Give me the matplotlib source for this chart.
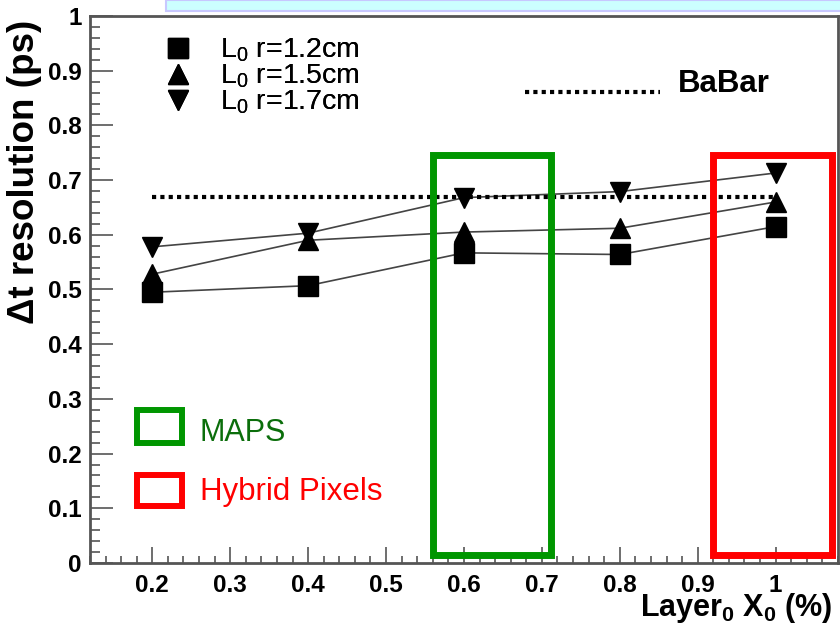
import matplotlib
matplotlib.use('Agg')
import matplotlib.pyplot as plt
from matplotlib.patches import Rectangle
from matplotlib.lines import Line2D
from matplotlib.ticker import MultipleLocator, FuncFormatter

plt.rcParams['font.family'] = ['Liberation Sans', 'DejaVu Sans']
plt.rcParams['mathtext.default'] = 'regular'

# material budget of layer 0 (% X0)
layer_x0 = [0.2, 0.4, 0.6, 0.8, 1.0]
# delta t resolution (ps) for three radii of layer 0
res_r12 = [0.495, 0.507, 0.567, 0.564, 0.615]
res_r15 = [0.528, 0.590, 0.605, 0.612, 0.660]
res_r17 = [0.578, 0.603, 0.668, 0.679, 0.713]
labels = ['L$_0$ r=1.2cm', 'L$_0$ r=1.5cm', 'L$_0$ r=1.7cm']

# BaBar reference
babar_x = [0.2, 1.0]
babar_y = [0.67, 0.67]

# technology ranges (x0, x1, y0, y1)
maps_box = [0.56, 0.712, 0.015, 0.746]
hybrid_box = [0.92, 1.072, 0.015, 0.746]

green = '#009600'
red = '#ff0000'

fig = plt.figure(figsize=(8.4, 6.26), dpi=100)
# light blue strip at top of the slide
fig.patches.append(Rectangle((166/840, 1-11/626), 1, 11/626, transform=fig.transFigure,
                             facecolor='#ccffff', edgecolor='#c8c8ff', lw=1.5))
ax = fig.add_axes([90/840, 1-563/626, 748/840, 547/626])

ax.plot(layer_x0, res_r12, color='#444444', lw=1.2, marker='s', ms=15, mfc='black', mec='black')
ax.plot(layer_x0, res_r15, color='#444444', lw=1.2, marker='^', ms=15, mfc='black', mec='black')
ax.plot(layer_x0, res_r17, color='#444444', lw=1.2, marker='v', ms=15, mfc='black', mec='black')
ax.plot(babar_x, babar_y, color='black', lw=3, ls=(0, (1, 1)), dash_capstyle='butt')

for box, col in [(maps_box, green), (hybrid_box, red)]:
    ax.add_patch(Rectangle((box[0], box[2]), box[1]-box[0], box[3]-box[2],
                           fill=False, edgecolor=col, lw=5, clip_on=False, zorder=5))

# series legend
handles = [Line2D([], [], ls='none', marker=m, ms=15, color='black') for m in ['s', '^', 'v']]
leg = ax.legend(handles, labels, loc='upper left', bbox_to_anchor=(0.099, 0.962),
                frameon=False, fontsize=20.5, handlelength=0.95, handletextpad=1.0,
                labelspacing=-0.05, borderpad=0, borderaxespad=0)
ax.add_artist(leg)

# BaBar legend
ax.plot([0.582, 0.762], [0.861, 0.861], transform=ax.transAxes, color='black', lw=3,
        ls=(0, (1, 1)), dash_capstyle='butt')
ax.text(0.786, 0.861, 'BaBar', transform=ax.transAxes, fontsize=22.5, fontweight='bold',
        va='baseline', ha='left')

# technology legend
ax.add_patch(Rectangle((0.063, 0.219), 0.06, 0.061, transform=ax.transAxes,
                       fill=False, edgecolor=green, lw=4.3))
ax.add_patch(Rectangle((0.063, 0.104), 0.06, 0.057, transform=ax.transAxes,
                       fill=False, edgecolor=red, lw=4.3))
ax.text(0.147, 0.238, 'MAPS', transform=ax.transAxes, fontsize=22, color='#0b6e0b',
        va='center', ha='left')
ax.text(0.147, 0.13, 'Hybrid Pixels', transform=ax.transAxes, fontsize=22.5, color=red,
        va='center', ha='left')

ax.set_xlim(0.12, 1.08)
ax.set_ylim(0, 1)
ax.xaxis.set_major_locator(MultipleLocator(0.1))
ax.xaxis.set_minor_locator(MultipleLocator(0.02))
ax.yaxis.set_major_locator(MultipleLocator(0.1))
ax.yaxis.set_minor_locator(MultipleLocator(0.02))
fmt = FuncFormatter(lambda v, p: f'{v:.1f}'.rstrip('0').rstrip('.') if abs(v) > 1e-9 else '0')
ax.xaxis.set_major_formatter(fmt)
ax.yaxis.set_major_formatter(fmt)

ax.tick_params(axis='both', which='both', direction='in', color='#555555', width=1.2,
               top=False, right=False, labelsize=17.5)
ax.tick_params(axis='y', which='major', length=16.5, pad=6)
ax.tick_params(axis='y', which='minor', length=7)
ax.tick_params(axis='x', which='major', length=11.5, pad=8)
ax.tick_params(axis='x', which='minor', length=5)
for lab in ax.get_xticklabels() + ax.get_yticklabels():
    lab.set_fontweight('bold')
for sp in ax.spines.values():
    sp.set_color('#555555')
    sp.set_linewidth(2)

ax.set_ylabel('Δt resolution (ps)', fontsize=26.5, fontweight='bold')
ax.yaxis.set_label_coords(-0.064, 0.715)
ax.set_xlabel('Layer$_0$ X$_0$ (%)', fontsize=22, fontweight='bold', ha='right')
ax.xaxis.set_label_coords(0.993, -0.052)

fig.savefig('out.png', dpi=100)
